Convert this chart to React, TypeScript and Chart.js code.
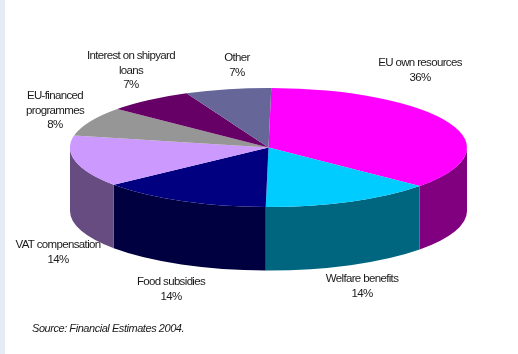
import { useEffect, useRef } from "react";
import { Chart, registerables } from "chart.js";

Chart.register(...registerables);

// Share of the budget by item, clockwise from twelve o'clock.
const categories = [
  ["EU own resources"],
  ["Welfare benefits"],
  ["Food subsidies"],
  ["VAT compensation"],
  ["EU-financed", "programmes"],
  ["Interest on shipyard", "loans"],
  ["Other"],
];
const shares = [36, 14, 14, 14, 8, 7, 7];
const topColors = ["#ff00ff", "#00ccff", "#000080", "#cc99ff", "#969696", "#660066", "#666699"];
const wallColors = ["#800080", "#006680", "#000040", "#664c80", "#4b4b4b", "#330033", "#33334c"];
const sourceNote = "Source: Financial Estimates 2004.";

// Where each label block is centred, and the first baseline of it.
const labelCentres = [420, 362, 171, 58, 55, 131, 237];
const labelTops = [66, 282, 285, 248, 99, 59, 61];

const PIE_RADIUS = 198.5;
const TILT = 59.5 / 198.5;
const DEPTH = 63.5;
const LINE_HEIGHT = 14.6;
const FONT = '11.5px "Liberation Sans"';

const piePerspective = {
  id: "piePerspective",
  beforeDatasetsDraw(chart: any) {
    const { ctx } = chart;
    const arcs = chart.getDatasetMeta(0).data;
    const { x: cx, y: cy } = arcs[0];
    const ry = PIE_RADIUS * TILT;

    // Outer walls: only the part of each slice facing the viewer is visible.
    arcs.forEach((arc: any, i: number) => {
      const from = Math.max(arc.startAngle, 0);
      const to = Math.min(arc.endAngle, Math.PI);
      if (to <= from) return;
      ctx.save();
      ctx.beginPath();
      ctx.ellipse(cx, cy, PIE_RADIUS, ry, 0, from, to);
      ctx.ellipse(cx, cy + DEPTH, PIE_RADIUS, ry, 0, to, from, true);
      ctx.closePath();
      ctx.fillStyle = wallColors[i];
      ctx.fill();
      ctx.restore();
    });

    // The slices themselves are drawn flattened onto the top face.
    ctx.save();
    ctx.translate(cx, cy);
    ctx.scale(1, TILT);
    ctx.translate(-cx, -cy);
  },
  afterDatasetsDraw(chart: any) {
    chart.ctx.restore();
  },
  afterDraw(chart: any) {
    const { ctx } = chart;
    ctx.save();
    ctx.fillStyle = "#1a1a1a";
    ctx.textBaseline = "alphabetic";
    ctx.letterSpacing = "-0.65px";

    ctx.font = FONT;
    ctx.textAlign = "center";
    categories.forEach((lines, i) => {
      const rows = [...lines, `${shares[i]}%`];
      rows.forEach((row, r) => {
        ctx.fillText(row, labelCentres[i], labelTops[i] + r * LINE_HEIGHT);
      });
    });

    ctx.letterSpacing = "-0.45px";
    ctx.font = 'italic 11px "Liberation Sans"';
    ctx.textAlign = "left";
    ctx.fillText(sourceNote, 32, 332);
    ctx.restore();
  },
};

export default function App() {
  const canvasRef = useRef<HTMLCanvasElement | null>(null);

  useEffect(() => {
    const chart = new Chart(canvasRef.current!, {
      type: "pie",
      data: {
        labels: categories.map((lines) => lines.join(" ")),
        datasets: [
          {
            data: shares,
            backgroundColor: topColors,
            borderWidth: 0,
            clip: false,
          } as any,
        ],
      },
      options: {
        animation: false,
        responsive: false,
        events: [],
        radius: PIE_RADIUS,
        rotation: 0.8,
        layout: { padding: { left: 19, top: 0, right: 0, bottom: 59 } },
        plugins: { legend: { display: false }, tooltip: { enabled: false } },
      } as any,
      plugins: [piePerspective],
    });
    return () => chart.destroy();
  }, []);

  return (
    <div style={{ position: "fixed", inset: 0, background: "#ffffff", overflow: "hidden" }}>
      <div style={{ position: "absolute", left: 0, top: 0, bottom: 0, width: 5, background: "#e6ebf5" }} />
      <canvas ref={canvasRef} width={518} height={354} style={{ position: "absolute", left: 0, top: 0 }} />
    </div>
  );
}
